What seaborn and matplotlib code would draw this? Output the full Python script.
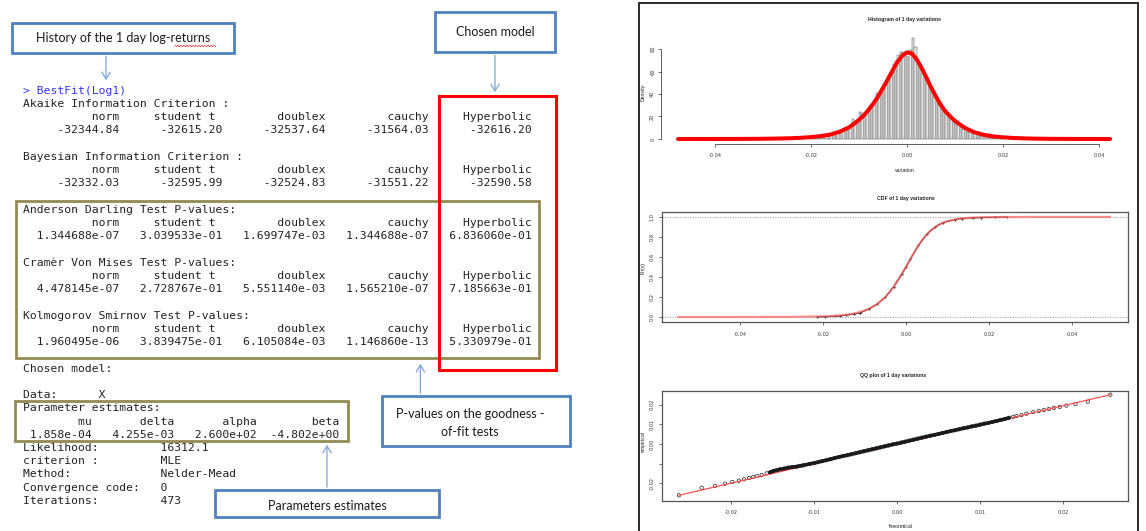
import numpy as np
import pandas as pd
import matplotlib
matplotlib.use("Agg")
import matplotlib.pyplot as plt
import seaborn as sns
from matplotlib.patches import Rectangle, FancyArrowPatch
from matplotlib.lines import Line2D

W, H = 1146, 531
sns.set_theme(style="white")
plt.rcParams["font.family"] = ["DejaVu Sans"]

# ---------------- DATA ----------------
models = ["norm", "student t", "doublex", "cauchy", "Hyperbolic"]
aic = [-32344.84, -32615.20, -32537.64, -31564.03, -32616.20]
bic = [-32332.03, -32595.99, -32524.83, -31551.22, -32590.58]
ad_p = [1.344688e-07, 3.039533e-01, 1.699747e-03, 1.344688e-07, 6.836060e-01]
cvm_p = [4.478145e-07, 2.728767e-01, 5.551140e-03, 1.565210e-07, 7.185663e-01]
ks_p = [1.960495e-06, 3.839475e-01, 6.105084e-03, 1.146860e-13, 5.330979e-01]
param_names = ["mu", "delta", "alpha", "beta"]
param_values = [1.858e-04, 4.255e-03, 2.600e+02, -4.802e+00]
fit_labels = ["Likelihood:", "criterion :", "Method:", "Convergence code:", "Iterations:"]
fit_values = ["16312.1", "MLE", "Nelder-Mead", "0", "473"]

# histogram of 1 day variations (bin width 0.0005, from -0.0205 to 0.0200)
hist_binwidth = 0.0005
hist_range = (-0.0205, 0.0200)
hist_density = [0.5, 1.0, 0.5, 1.5, 1.0, 2.0, 1.5, 3.0, 2.5, 3.5,
                4.0, 3.0, 5.5, 6.0, 8.5, 9.5, 8.0, 11.5, 17.5, 13.0,
                15.0, 24.0, 23.0, 21.5, 24.0, 25.5, 28.5, 34.0, 41.0, 39.0,
                42.0, 47.0, 52.0, 56.5, 60.0, 66.5, 69.0, 75.0, 77.0, 77.5,
                74.0, 72.5, 79.0, 90.0, 82.0, 68.0, 64.0, 57.5, 55.0, 54.0,
                46.0, 42.5, 37.0, 33.5, 33.0, 28.0, 24.5, 24.0, 22.0, 18.0,
                16.5, 14.0, 12.0, 10.5, 9.0, 8.5, 6.5, 6.0, 5.0, 4.0,
                3.5, 3.0, 2.5, 2.5, 2.0, 4.0, 1.5, 1.0, 0.5, 0.5, 0.5]
# fitted hyperbolic density (red curve)
dens_x = [-0.0477, -0.040, -0.035, -0.030, -0.027, -0.024, -0.022, -0.020, -0.018,
          -0.016, -0.014, -0.012, -0.010, -0.009, -0.008, -0.007, -0.006, -0.005,
          -0.004, -0.003, -0.002, -0.001, 0.0, 0.001, 0.002, 0.003, 0.004, 0.005,
          0.006, 0.007, 0.008, 0.009, 0.010, 0.012, 0.014, 0.016, 0.018, 0.020,
          0.022, 0.024, 0.027, 0.030, 0.035, 0.040, 0.0423]
dens_y = [0.0, 0.02, 0.07, 0.2, 0.4, 0.7, 1.1, 1.7, 2.6,
          3.9, 6.5, 10.5, 17.0, 21.0, 26.0, 31.5, 38.0, 45.5,
          53.0, 61.0, 68.5, 74.0, 77.0, 76.0, 71.0, 63.5, 55.0, 46.0,
          38.0, 30.5, 24.5, 20.0, 16.0, 10.0, 6.0, 3.7, 2.3, 1.5,
          0.95, 0.6, 0.3, 0.15, 0.05, 0.015, 0.0]

# CDF: fitted and empirical
cdf_fit_x = [-0.0549, -0.040, -0.030, -0.025, -0.020, -0.018, -0.016, -0.014, -0.012,
             -0.010, -0.009, -0.008, -0.007, -0.006, -0.005, -0.004, -0.003, -0.002,
             -0.001, 0.0, 0.001, 0.002, 0.003, 0.004, 0.005, 0.006, 0.007, 0.008,
             0.009, 0.010, 0.012, 0.014, 0.016, 0.018, 0.020, 0.025, 0.030, 0.040, 0.0492]
cdf_fit_y = [0.0, 0.0001, 0.0008, 0.0025, 0.0065, 0.010, 0.016, 0.025, 0.040,
             0.065, 0.082, 0.103, 0.129, 0.161, 0.199, 0.245, 0.300, 0.362,
             0.430, 0.500, 0.575, 0.648, 0.716, 0.776, 0.826, 0.867, 0.900, 0.925,
             0.944, 0.958, 0.977, 0.988, 0.9935, 0.9965, 0.998, 0.9995, 0.9999, 1.0, 1.0]
ecdf_x = [-0.0214, -0.0195, -0.0171, -0.0158, -0.0145, -0.0125, -0.0111, -0.009,
          -0.007, -0.005, -0.003, -0.001, 0.0, 0.001, 0.003, 0.005, 0.007, 0.009,
          0.0118, 0.0135, 0.0162, 0.0181, 0.0215, 0.0243]
ecdf_y = [0.0003, 0.003, 0.007, 0.011, 0.017, 0.030, 0.040, 0.080,
          0.128, 0.198, 0.302, 0.432, 0.501, 0.576, 0.716, 0.827, 0.900, 0.945,
          0.974, 0.985, 0.992, 0.995, 0.998, 1.0]

# QQ plot: theoretical vs empirical quantiles
qq_theo = [-0.02627, -0.02353, -0.02193, -0.02072, -0.01984, -0.01904, -0.01843, -0.01783,
           -0.01731, -0.01683, -0.0163, -0.0157, -0.0153, -0.0149, -0.0145, -0.0141,
           -0.0136, -0.0131, -0.0126, -0.0121, -0.0117, -0.0113,
           -0.0105, -0.0100, -0.0095, -0.0090, -0.0085, -0.0080, -0.0075, -0.0070,
           -0.0065, -0.0060, -0.0055, -0.0050, -0.0045, -0.0040, -0.0035, -0.0030,
           -0.0025, -0.0020, -0.0015, -0.0010, -0.0005, 0.0000, 0.0005, 0.0010,
           0.0015, 0.0020, 0.0025, 0.0030, 0.0035, 0.0040, 0.0045, 0.0050,
           0.0055, 0.0060, 0.0065, 0.0070, 0.0075, 0.0080, 0.0085, 0.0090,
           0.0095, 0.0100, 0.0105, 0.0110, 0.0115, 0.0120, 0.0125, 0.0130, 0.0135,
           0.0140, 0.0144, 0.0150, 0.0156, 0.0164, 0.0171, 0.0177, 0.0183,
           0.0189, 0.0196, 0.0204, 0.0215, 0.0230, 0.0257]
qq_emp = [-0.02604, -0.02218, -0.02132, -0.02015, -0.01929, -0.01861, -0.01793, -0.01726,
          -0.01675, -0.01624, -0.01574, -0.01489, -0.0144, -0.0137, -0.0133, -0.01286,
          -0.0125, -0.0120, -0.0117, -0.01151, -0.0111, -0.01083,
          -0.0101, -0.0097, -0.0092, -0.0087, -0.0082, -0.0077, -0.0071, -0.0066,
          -0.0061, -0.0057, -0.0052, -0.0047, -0.0042, -0.0037, -0.0032, -0.0027,
          -0.0022, -0.0017, -0.0012, -0.0007, -0.0002, 0.0002, 0.0007, 0.0012,
          0.0017, 0.0022, 0.0027, 0.0032, 0.0037, 0.0042, 0.0046, 0.0051,
          0.0056, 0.0061, 0.0066, 0.0070, 0.0075, 0.0080, 0.0084, 0.0089,
          0.0093, 0.0098, 0.0103, 0.0107, 0.0112, 0.0117, 0.0122, 0.0127, 0.0133,
          0.0138, 0.0142, 0.0147, 0.0154, 0.0162, 0.0168, 0.0173, 0.0178,
          0.0183, 0.0188, 0.0195, 0.0203, 0.0215, 0.0250]
qq_line_x = [-0.02627, 0.02570]
qq_line_y = [-0.02604, 0.02500]

# ---------------- FIGURE ----------------
fig = plt.figure(figsize=(W / 100, H / 100), dpi=100)
fig.patch.set_facecolor("white")


def fx(x):
    return x / W


def fy(y):
    return 1 - y / H


def T(x, y, s, **kw):
    kw.setdefault("va", "center")
    fig.text(fx(x), fy(y), s, **kw)


def box(x0, y0, x1, y1, color, lw):
    fig.add_artist(Rectangle((fx(x0), fy(y1)), (x1 - x0) / W, (y1 - y0) / H,
                             transform=fig.transFigure, fill=False,
                             edgecolor=color, linewidth=lw, zorder=5))


def arrow(x, y0, y1):
    fig.add_artist(FancyArrowPatch((fx(x), fy(y0)), (fx(x), fy(y1)),
                                   transform=fig.transFigure,
                                   arrowstyle="->,head_length=5,head_width=3",
                                   mutation_scale=1, color="#7ea3d6", lw=0.9, zorder=6))


def row(items, ends):
    s = ""
    for txt, e in zip(items, ends):
        s += " " * max(1, e - len(s) - len(txt)) + txt
    return s


# ---------- console text ----------
mono = dict(family="DejaVu Sans Mono", fontsize=8.2, color="#222222", ha="left")
X0 = 23.2
Y0, DY = 90.8, 13.23
hdr_ends = [14, 28, 44, 59, 74]
val_ends = [14, 29, 44, 59, 74]
lines = {
    1: "Akaike Information Criterion :",
    2: row(models, hdr_ends),
    3: row([f"{v:.2f}" for v in aic], val_ends),
    5: "Bayesian Information Criterion :",
    6: row(models, hdr_ends),
    7: row([f"{v:.2f}" for v in bic], val_ends),
    9: "Anderson Darling Test P-values:",
    10: row(models, hdr_ends),
    11: row([f"{v:.6e}" for v in ad_p], val_ends),
    13: "Cramèr Von Mises Test P-values:",
    14: row(models, hdr_ends),
    15: row([f"{v:.6e}" for v in cvm_p], val_ends),
    17: "Kolmogorov Smirnov Test P-values:",
    18: row(models, hdr_ends),
    19: row([f"{v:.6e}" for v in ks_p], val_ends),
    21: "Chosen model:",
    23: "Data:      X",
    24: "Parameter estimates:",
    25: row(param_names, [10, 22, 34, 46]),
    26: row([f"{v:.3e}" for v in param_values], [10, 22, 34, 46]),
}
for i, (lab, val) in enumerate(zip(fit_labels, fit_values)):
    lines[27 + i] = lab.ljust(20) + val

T(X0, Y0, "> BestFit(Log1)", **{**mono, "color": "#3535f0"})
for k, s in lines.items():
    T(X0, Y0 + k * DY, s, **mono)

# ---------- annotation boxes ----------
blue = "#4f81bd"
olive = "#948a54"
label_font = dict(family="Lato", fontsize=9, color="#1a1a1a", ha="center")

box(11.8, 22.7, 234, 53.3, blue, 2.0)
T(123, 38.5, "History of the 1 day log-returns", **label_font)
zx = np.arange(175, 217, 1.5)
zy = 46 + np.where(np.arange(len(zx)) % 2 == 0, -0.8, 0.8)
fig.add_artist(Line2D(fx(zx), fy(zy), transform=fig.transFigure, color="#e03030", lw=0.5))
arrow(106, 53.5, 83)

box(435, 11.7, 555, 52.3, blue, 2.0)
T(495, 32.5, "Chosen model", **label_font)
arrow(495, 52.5, 95)

box(16, 200.7, 538.6, 358.3, olive, 2.0)
box(15.4, 401, 347.5, 441, olive, 2.0)
box(438.6, 95.7, 555.7, 370, "#ff0000", 2.2)

box(381.7, 396, 570, 446, blue, 2.0)
T(470, 413.5, "P-values on the goodness -", **label_font)
T(470, 431.5, "of-fit tests", **label_font)
arrow(420.4, 396, 361)

box(215.4, 490, 439.3, 517.3, blue, 2.0)
T(327, 505.5, "Parameters estimates", **label_font)
arrow(327, 490, 442)

# ---------- right panel frame ----------
box(638.5, 2.5, 1138, 560, "#2a2a2a", 1.4)


def add_ax(l, t, r, b):
    return fig.add_axes([fx(l), fy(b), (r - l) / W, (b - t) / H])


tick_kw = dict(direction="out", length=2.2, width=0.5, labelsize=3.6,
               colors="#333333", bottom=True, left=True)
rfont = dict(family="Liberation Sans", fontsize=3.7, color="#222222", ha="center")

# ---------- histogram ----------
ax1 = add_ax(670, 30, 1118, 142)
n_bins = len(hist_density)
centers = [hist_range[0] + hist_binwidth * (i + 0.5) for i in range(n_bins)]
hist_df = pd.DataFrame({"variation": centers, "density": hist_density})
sns.histplot(data=hist_df, x="variation", weights="density",
             binwidth=hist_binwidth, binrange=hist_range,
             stat="count", color="#e6e6e6", edgecolor="#555555", linewidth=0.35,
             alpha=1, ax=ax1)
sns.lineplot(x=dens_x, y=dens_y, color="#ff0000", lw=2.9, sort=False,
             estimator=None, ax=ax1)
ax1.set_xlim(-0.049375, 0.043958)
ax1.set_ylim(-2.667, 96.89)
for s in ["top", "right"]:
    ax1.spines[s].set_visible(False)
ax1.spines["left"].set_position(("outward", 6.5))
ax1.spines["left"].set_bounds(0, 80)
ax1.spines["bottom"].set_position(("outward", 1.5))
ax1.spines["bottom"].set_bounds(-0.04, 0.04)
for s in ["left", "bottom"]:
    ax1.spines[s].set_color("#444444")
    ax1.spines[s].set_linewidth(0.6)
ax1.set_xticks([-0.04, -0.02, 0, 0.02, 0.04])
ax1.set_xticklabels(["-0.04", "-0.02", "0.00", "0.02", "0.04"])
ax1.set_yticks([0, 20, 40, 60, 80])
ax1.set_yticklabels(["0", "20", "40", "60", "80"], rotation=90, va="center")
ax1.tick_params(axis="x", pad=4, **tick_kw)
ax1.tick_params(axis="y", pad=2, **tick_kw)
ax1.set_xlabel("")
ax1.set_ylabel("")
T(905, 20, "Histogram of 1 day variations", fontweight="bold", **rfont)
T(905, 171, "variation", **rfont)
T(643.5, 92, "Density", rotation=90, **rfont)

# ---------- CDF ----------
ax2 = add_ax(662, 212, 1128, 322)
ax2.axhline(0, color="#9a9a9a", ls=(0, (1.5, 1.5)), lw=0.6)
ax2.axhline(1, color="#9a9a9a", ls=(0, (1.5, 1.5)), lw=0.6)
sns.lineplot(x=ecdf_x, y=ecdf_y, color="black", lw=0.8,
             sort=False, estimator=None, ax=ax2)
sns.scatterplot(x=ecdf_x, y=ecdf_y, color="black", s=2.0, linewidth=0, ax=ax2)
sns.lineplot(x=cdf_fit_x, y=cdf_fit_y, color="#ff6a6a", lw=1.6, alpha=0.75,
             sort=False, estimator=None, ax=ax2)
ax2.set_xlim(-0.0588, 0.0535)
ax2.set_ylim(-0.05, 1.05)
for s in ax2.spines.values():
    s.set_color("#555555")
    s.set_linewidth(0.9)
ax2.set_xticks([-0.04, -0.02, 0, 0.02, 0.04])
ax2.set_xticklabels(["-0.04", "-0.02", "0.00", "0.02", "0.04"])
ax2.set_yticks([0, 0.2, 0.4, 0.6, 0.8, 1.0])
ax2.set_yticklabels(["0.0", "0.2", "0.4", "0.6", "0.8", "1.0"], rotation=90, va="center")
ax2.tick_params(axis="x", pad=5, **tick_kw)
ax2.tick_params(axis="y", pad=3, **tick_kw)
ax2.set_xlabel("")
ax2.set_ylabel("")
T(906, 198.5, "CDF of 1 day variations", fontweight="bold", **rfont)
T(643.5, 268, "Fn(x)", rotation=90, **rfont)

# ---------- QQ plot ----------
ax3 = add_ax(662, 391, 1128, 501)
sns.lineplot(x=qq_line_x, y=qq_line_y, color="#ff5050", lw=0.9, sort=False,
             estimator=None, ax=ax3)
dense = slice(12, 71)
sns.lineplot(x=qq_theo[dense], y=qq_emp[dense], color="#1a1a1a", lw=2.6, sort=False,
             estimator=None, ax=ax3)
sns.scatterplot(x=qq_theo, y=qq_emp, marker="o", facecolor="none",
                edgecolor="#222222", s=6, linewidth=0.5, ax=ax3)
ax3.set_xlim(-0.02831, 0.02783)
ax3.set_ylim(-0.02893, 0.0269)
for s in ax3.spines.values():
    s.set_color("#555555")
    s.set_linewidth(0.9)
ax3.set_xticks([-0.02, -0.01, 0, 0.01, 0.02])
ax3.set_xticklabels(["-0.02", "-0.01", "0.00", "0.01", "0.02"])
ax3.set_yticks([-0.02, -0.01, 0, 0.01, 0.02])
ax3.set_yticklabels(["-0.02", "", "0.00", "0.01", "0.02"], rotation=90, va="center")
ax3.tick_params(axis="x", pad=4, **tick_kw)
ax3.tick_params(axis="y", pad=3, **tick_kw)
ax3.set_xlabel("")
ax3.set_ylabel("")
T(893, 376, "QQ plot of 1 day variations", fontweight="bold", **rfont)
T(901, 526.5, "theoretical", **rfont)
T(643.5, 442, "empirical", rotation=90, **rfont)

fig.savefig("out.png", dpi=100)
